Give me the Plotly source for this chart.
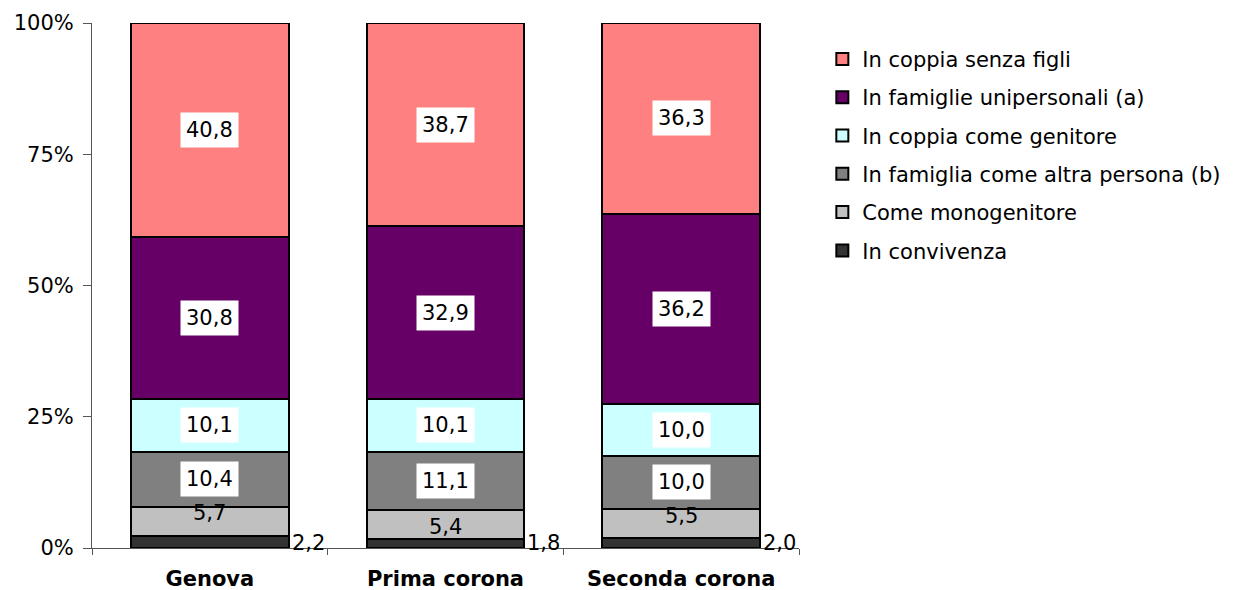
import plotly.graph_objects as go

# Aree territoriali
categories = ["Genova", "Prima corona", "Seconda corona"]

# Composizione percentuale, dal basso verso l'alto della colonna
series_names = [
    "In convivenza",
    "Come monogenitore",
    "In famiglia come altra persona (b)",
    "In coppia come genitore",
    "In famiglie unipersonali (a)",
    "In coppia senza figli",
]
in_convivenza = [2.2, 1.8, 2.0]
come_monogenitore = [5.7, 5.4, 5.5]
altra_persona = [10.4, 11.1, 10.0]
coppia_genitore = [10.1, 10.1, 10.0]
unipersonali = [30.8, 32.9, 36.2]
coppia_senza_figli = [40.8, 38.7, 36.3]

y_tick_values = [0, 25, 50, 75, 100]
y_tick_labels = ["0%", "25%", "50%", "75%", "100%"]

series_values = [in_convivenza, come_monogenitore, altra_persona,
                 coppia_genitore, unipersonali, coppia_senza_figli]
colors = ["#333333", "#C0C0C0", "#808080", "#CCFFFF", "#660066", "#FF8080"]

FONT = "DejaVu Sans"
FS = 21
BAR_WIDTH = 0.67


def fmt(v):
    return f"{v:.1f}".replace(".", ",")


fig = go.Figure()
n = len(series_names)
for i, (name, vals, col) in enumerate(zip(series_names, series_values, colors)):
    fig.add_trace(go.Bar(
        x=categories, y=vals, name=name,
        marker=dict(color=col, line=dict(color="#000000", width=2)),
        width=BAR_WIDTH, legendgroup=name, legendrank=n - i,
    ))

# Etichette dei valori
annotations = []
for ci, cat in enumerate(categories):
    base = 0.0
    for si, vals in enumerate(series_values):
        v = vals[ci]
        mid = base + v / 2
        if si == 0:
            # segmento piu piccolo: etichetta a destra della colonna
            annotations.append(dict(
                x=ci + BAR_WIDTH / 2, y=base, xref="x", yref="y",
                text=fmt(v), showarrow=False, xanchor="left", yanchor="middle",
                xshift=1, yshift=5, font=dict(family=FONT, size=FS, color="#000000"),
            ))
        elif si == 1:
            annotations.append(dict(
                x=ci, y=mid, xref="x", yref="y", text=fmt(v), showarrow=False,
                yshift=[8, -3, 7][ci],
                font=dict(family=FONT, size=FS, color="#000000"),
            ))
        else:
            annotations.append(dict(
                x=ci, y=mid, xref="x", yref="y", text=fmt(v), showarrow=False,
                bgcolor="#FFFFFF", borderpad=5,
                font=dict(family=FONT, size=FS, color="#000000"),
            ))
        base += v

fig.update_layout(
    barmode="stack",
    width=1234, height=590,
    margin=dict(l=92, r=435, t=23, b=42, autoexpand=False),
    plot_bgcolor="#FFFFFF", paper_bgcolor="#FFFFFF",
    font=dict(family=FONT, size=FS, color="#000000"),
    annotations=annotations,
    legend=dict(
        x=1.033, y=0.97, xanchor="left", yanchor="top",
        traceorder="grouped", tracegroupgap=8,
        font=dict(family=FONT, size=FS, color="#000000"),
        itemwidth=30,
    ),
    xaxis=dict(
        type="category", range=[-0.5, 2.5],
        showline=True, linecolor="#555555", linewidth=1,
        ticks="outside", tickson="boundaries", ticklen=6, tickcolor="#555555",
        tickfont=dict(family=FONT, size=FS, color="#000000", weight="bold"),
        ticklabelstandoff=12,
        showgrid=False,
    ),
    yaxis=dict(
        range=[0, 100], tickvals=y_tick_values, ticktext=y_tick_labels,
        showline=True, linecolor="#555555", linewidth=1,
        ticks="outside", ticklen=8, tickcolor="#555555",
        tickfont=dict(family=FONT, size=FS, color="#000000"),
        ticklabelstandoff=5,
        showgrid=False, zeroline=False,
    ),
    bargap=0.33,
)

fig.write_html("out.html")
